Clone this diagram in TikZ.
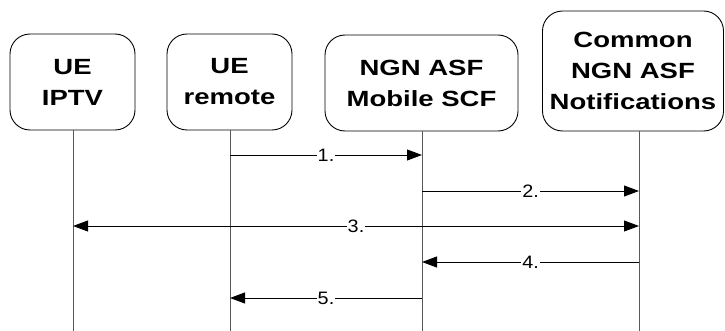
\documentclass[tikz,border=0pt]{standalone}
\usepackage{fontspec}
\setmainfont{Liberation Sans}
\newfontfamily\boxfont[FakeStretch=1.25]{Liberation Sans}
\newfontfamily\lblfont[FakeStretch=1.1]{Liberation Sans}
\usetikzlibrary{arrows.meta}
\begin{document}
\begin{tikzpicture}[x=1pt,y=-1pt,
  entity/.style={draw=black,line width=0.9pt,rounded corners=20pt,align=center,
    font=\boxfont\bfseries\fontsize{22}{31}\selectfont,inner sep=0pt},
  life/.style={draw=black!65,line width=0.9pt},
  msg/.style={draw=black,line width=0.9pt,-{Triangle[length=15pt,width=11pt]}},
  bmsg/.style={draw=black,line width=0.9pt,{Triangle[length=15pt,width=11pt]}-{Triangle[length=15pt,width=11pt]}},
  lbl/.style={fill=white,inner sep=1pt,font=\lblfont\fontsize{18}{18}\selectfont}]
\useasboundingbox (0,0) rectangle (725,331);
\node[entity,minimum width=125pt,minimum height=96pt] (ue) at (72.5,82) {UE\\IPTV};
\node[entity,minimum width=125pt,minimum height=96pt] (rem) at (229.5,82) {UE\\remote};
\node[entity,minimum width=193pt,minimum height=96pt] (scf) at (421.5,83) {NGN ASF\\Mobile SCF};
\node[entity,minimum width=181pt,minimum height=120pt] (not) at (633,71) {Common\\NGN ASF\\Notifications};
% lifeline ends
\coordinate (b1) at (73,331);
\coordinate (b2) at (230,331);
\coordinate (b3) at (422,331);
\coordinate (b4) at (639,331);
\draw[life] (ue.south -| b1) -- (b1);
\draw[life] (rem.south -| b2) -- (b2);
\draw[life] (scf.south -| b3) -- (b3);
\draw[life] (not.south -| b4) -- (b4);
% message points
\coordinate (m1a) at (230,155); \coordinate (m1b) at (422,155);
\coordinate (m2a) at (422,191); \coordinate (m2b) at (639,191);
\coordinate (m3a) at (73,226);  \coordinate (m3b) at (639,226);
\coordinate (m4a) at (639,262); \coordinate (m4b) at (422,262);
\coordinate (m5a) at (422,298); \coordinate (m5b) at (230,298);
\draw[msg] (m1a) -- node[lbl] (l1) {1.} (m1b);
\draw[msg] (m2a) -- node[lbl] (l2) {2.} (m2b);
\draw[bmsg] (m3a) -- node[lbl] (l3) {3.} (m3b);
\draw[msg] (m4a) -- node[lbl] (l4) {4.} (m4b);
\draw[msg] (m5a) -- node[lbl] (l5) {5.} (m5b);
\end{tikzpicture}
\end{document}
